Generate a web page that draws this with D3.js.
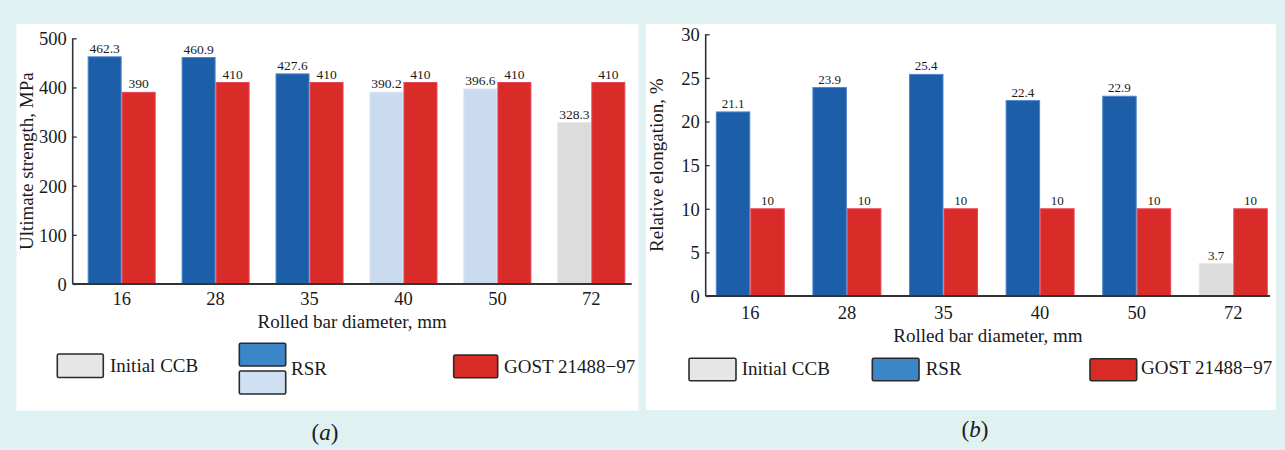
<!DOCTYPE html>
<html>
<head>
<meta charset="utf-8">
<script src="https://cdn.jsdelivr.net/npm/d3@7"></script>
<style>
  html, body { margin: 0; padding: 0; background: #e0f1f1; }
  svg { display: block; }
  text { font-family: "Liberation Serif", "Times New Roman", serif; fill: #1a1a1a; }
</style>
</head>
<body>
<svg id="chart" width="1285" height="450"></svg>
<script>
// Rolled bar diameters, mm
const diameters = ["16", "28", "35", "40", "50", "72"];

// (a) Ultimate strength, MPa
const strengthMeasured = [462.3, 460.9, 427.6, 390.2, 396.6, 328.3];
const strengthGost = [390, 410, 410, 410, 410, 410];
const strengthKind = ["rsr", "rsr", "rsr", "rsrLight", "rsrLight", "ccb"];
const strengthTicks = [0, 100, 200, 300, 400, 500];

// (b) Relative elongation, %
const elongMeasured = [21.1, 23.9, 25.4, 22.4, 22.9, 3.7];
const elongGost = [10, 10, 10, 10, 10, 10];
const elongKind = ["rsr", "rsr", "rsr", "rsr", "rsr", "ccb"];
const elongTicks = [0, 5, 10, 15, 20, 25, 30];

const fills = {
  rsr: "#1d5ea9", rsrLight: "#cadbef", ccb: "#dcdcdc", gost: "#d92b27"
};
const edges = {
  rsr: "#4f86cc", rsrLight: "#d8e4f3", ccb: "#e4e4e4", gost: "#e8465a"
};
const legendFills = {
  ccb: "#e6e6e6", rsr: "#3b86c8", rsrLight: "#cfe0f2", gost: "#d92a26"
};

const svg = d3.select("#chart");

function panel(cfg) {
  const g = svg.append("g");

  g.append("rect")
    .attr("x", cfg.box[0]).attr("y", cfg.box[1])
    .attr("width", cfg.box[2]).attr("height", cfg.box[3])
    .attr("fill", "#ffffff");

  const y = d3.scaleLinear().domain(cfg.yDomain).range([cfg.y0, cfg.y1]);
  const x = d3.scaleBand().domain(diameters).range(cfg.xRange).padding(0);
  const bw = cfg.barWidth;
  const sub = d3.scaleBand().domain(["m", "g"])
    .range([x.bandwidth() / 2 - bw, x.bandwidth() / 2 + bw]);

  const rows = diameters.map((d, i) => ({
    d, m: cfg.measured[i], g: cfg.gost[i], kind: cfg.kind[i]
  }));

  const groups = g.selectAll("g.grp").data(rows).join("g")
    .attr("class", "grp")
    .attr("transform", r => `translate(${x(r.d)},0)`);

  // measured bars
  groups.append("rect")
    .attr("x", sub("m") + 0.5).attr("width", sub.bandwidth() - 1)
    .attr("y", r => y(r.m)).attr("height", r => y(0) - y(r.m))
    .attr("fill", r => fills[r.kind])
    .attr("stroke", r => edges[r.kind]).attr("stroke-width", 1);

  // standard requirement bars
  groups.append("rect")
    .attr("x", sub("g") + 0.5).attr("width", sub.bandwidth() - 1)
    .attr("y", r => y(r.g)).attr("height", r => y(0) - y(r.g))
    .attr("fill", fills.gost)
    .attr("stroke", edges.gost).attr("stroke-width", 1);

  // value labels
  groups.append("text")
    .attr("x", sub("m") + sub.bandwidth() / 2)
    .attr("y", r => y(r.m) - 4)
    .attr("text-anchor", "middle")
    .style("font-size", cfg.valueFont + "px")
    .text(r => r.m);
  groups.append("text")
    .attr("x", sub("g") + sub.bandwidth() / 2)
    .attr("y", r => y(r.g) - 4)
    .attr("text-anchor", "middle")
    .style("font-size", cfg.valueFont + "px")
    .text(r => r.g);

  // y axis
  const yAxis = d3.axisRight(y).tickValues(cfg.ticks).tickSize(4).tickFormat(d3.format("d"));
  const ya = g.append("g").attr("transform", `translate(${cfg.axisX},0)`).call(yAxis);
  ya.select(".domain").remove();
  ya.selectAll(".tick line").attr("stroke", "#333").attr("stroke-width", 1.3);
  ya.selectAll(".tick text")
    .attr("x", -6).attr("dy", "0.34em")
    .attr("text-anchor", "end")
    .style("font-size", "18.5px")
    .style("font-family", "Liberation Serif, serif")
    .attr("fill", "#1a1a1a");

  // axis lines
  g.append("line")
    .attr("x1", cfg.axisX).attr("x2", cfg.axisX)
    .attr("y1", y(cfg.yDomain[1])).attr("y2", y(0))
    .attr("stroke", "#333").attr("stroke-width", 1.6);
  g.append("line")
    .attr("x1", cfg.axisX).attr("x2", cfg.axisEnd)
    .attr("y1", y(0)).attr("y2", y(0))
    .attr("stroke", "#333").attr("stroke-width", 1.8);

  // x axis labels
  const xAxis = d3.axisBottom(x).tickSize(0);
  const xa = g.append("g").attr("transform", `translate(0,${y(0)})`).call(xAxis);
  xa.select(".domain").remove();
  xa.selectAll(".tick text")
    .attr("y", cfg.xTickBase - y(0)).attr("dy", 0)
    .style("font-size", "18.5px")
    .style("font-family", "Liberation Serif, serif")
    .attr("fill", "#1a1a1a");

  g.append("text")
    .attr("x", (cfg.axisX + cfg.axisEnd) / 2).attr("y", cfg.xTitleBase)
    .attr("text-anchor", "middle")
    .style("font-size", "19px")
    .text("Rolled bar diameter, mm");

  g.append("text")
    .attr("transform", `translate(${cfg.yTitleX},${(y(0) + y(cfg.yDomain[1])) / 2}) rotate(-90)`)
    .attr("text-anchor", "middle")
    .style("font-size", "19px")
    .text(cfg.yTitle);

  // legend
  cfg.legend.forEach(item => {
    item.boxes.forEach(b => {
      g.append("rect")
        .attr("x", b.x).attr("y", b.y).attr("width", b.w).attr("height", b.h)
        .attr("rx", 1.5)
        .attr("fill", legendFills[b.kind])
        .attr("stroke", "#2a2a2a").attr("stroke-width", 1.6);
    });
    g.append("text")
      .attr("x", item.tx).attr("y", item.ty)
      .style("font-size", "19px")
      .text(item.label);
  });

  g.append("text")
    .attr("x", cfg.caption[0]).attr("y", cfg.caption[1])
    .attr("text-anchor", "middle")
    .style("font-size", "23px")
    .html(`(<tspan font-style="italic">${cfg.caption[2]}</tspan>)`);
}

panel({
  box: [16.5, 24, 622, 386.5],
  yDomain: [0, 500], y0: 284, y1: 38.3,
  xRange: [74.7, 638.3], barWidth: 34,
  axisX: 72.7, axisEnd: 631.7,
  measured: strengthMeasured, gost: strengthGost, kind: strengthKind,
  ticks: strengthTicks, valueFont: 13.5,
  xTickBase: 305, xTitleBase: 328,
  yTitleX: 33.3, yTitle: "Ultimate strength, MPa",
  legend: [
    { label: "Initial CCB", tx: 110, ty: 372.3,
      boxes: [{ kind: "ccb", x: 57.3, y: 354, w: 46, h: 23.5 }] },
    { label: "RSR", tx: 291, ty: 375,
      boxes: [{ kind: "rsr", x: 239.3, y: 343.3, w: 46.4, h: 22.7 },
              { kind: "rsrLight", x: 239.3, y: 371, w: 46.4, h: 23 }] },
    { label: "GOST 21488\u221297", tx: 504, ty: 373.3,
      boxes: [{ kind: "gost", x: 453.7, y: 355, w: 44, h: 22.7 }] }
  ],
  caption: [325, 440, "a"]
});

panel({
  box: [646, 24, 630, 386],
  yDomain: [0, 30], y0: 296, y1: 34.3,
  xRange: [702, 1281.6], barWidth: 34.5,
  axisX: 705.7, axisEnd: 1270,
  measured: elongMeasured, gost: elongGost, kind: elongKind,
  ticks: elongTicks, valueFont: 13,
  xTickBase: 319.3, xTitleBase: 341.7,
  yTitleX: 662.7, yTitle: "Relative elongation, %",
  legend: [
    { label: "Initial CCB", tx: 741.7, ty: 375,
      boxes: [{ kind: "ccb", x: 689, y: 358.3, w: 47, h: 22.4 }] },
    { label: "RSR", tx: 925.7, ty: 375,
      boxes: [{ kind: "rsr", x: 872.3, y: 358.3, w: 46.7, h: 22.4 }] },
    { label: "GOST 21488\u221297", tx: 1141, ty: 374.3,
      boxes: [{ kind: "gost", x: 1090, y: 358.7, w: 46.7, h: 22 }] }
  ],
  caption: [975, 437, "b"]
});
</script>
</body>
</html>
